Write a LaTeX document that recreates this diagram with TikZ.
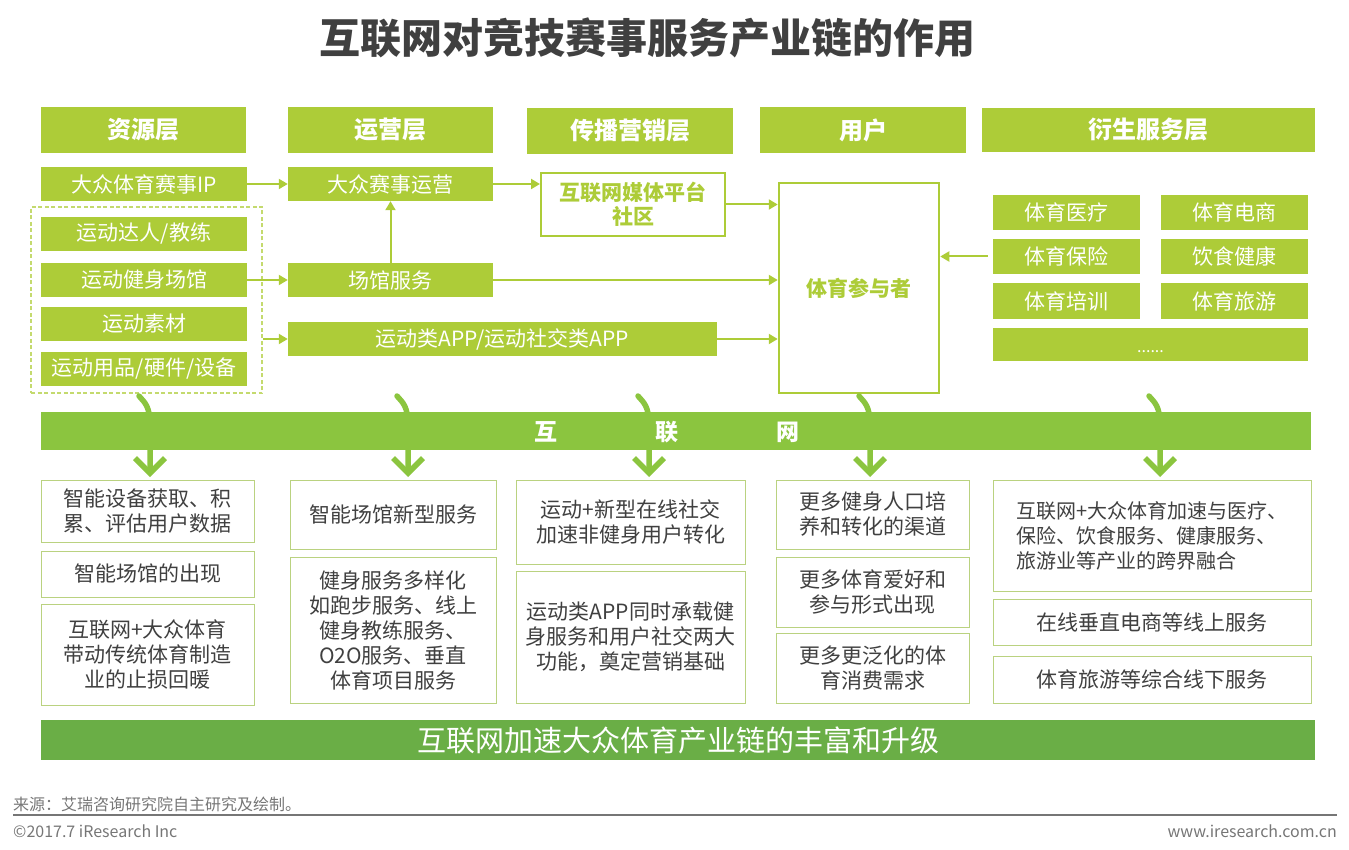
\documentclass[tikz,border=0pt]{standalone}
\usepackage{fontspec}
\setmainfont{Noto Sans CJK SC}
\usetikzlibrary{arrows.meta,positioning}
\definecolor{leafc}{RGB}{173,204,56}
\definecolor{netc}{RGB}{139,197,63}
\definecolor{sumc}{RGB}{106,174,70}
\definecolor{edgec}{RGB}{186,210,128}
\definecolor{grpc}{RGB}{196,218,110}
\definecolor{txtc}{RGB}{64,64,64}
\definecolor{footc}{RGB}{118,118,118}

\begin{document}
\begin{tikzpicture}[
  x=1pt, y=-1pt,
  hdr/.style={fill=leafc, text=white, minimum height=46pt, inner sep=0pt,
              font=\fontsize{24}{28}\selectfont\bfseries},
  res/.style={fill=leafc, text=white, minimum width=206pt, minimum height=34pt,
              inner sep=0pt, font=\fontsize{21}{25}\selectfont},
  hub/.style={draw=leafc, line width=2.5pt, fill=white, text=leafc, inner sep=0pt,
              align=center, font=\fontsize{21}{24}\selectfont\bfseries},
  note/.style={draw=edgec, line width=1pt, fill=white, text=txtc, inner sep=0pt,
               align=center, font=\fontsize{21}{25}\selectfont},
  flow/.style={draw=leafc, line width=2pt, -{Triangle[length=9pt,width=10pt]}},
  netarr/.style={draw=netc, line width=5.5pt, line cap=round,
                 -{Straight Barb[length=15pt,width=30pt]}},
  foot/.style={text=footc, inner sep=0pt, font=\fontsize{16}{18}\selectfont},
]
\useasboundingbox (0,0) rectangle (1349,850);

% ---------------- title ----------------
\node[text=txtc, font=\fontsize{41}{48}\selectfont\bfseries] (title) at (647,38)
  {互联网对竞技赛事服务产业链的作用};

% ---------------- layer headers ----------------
\node[hdr, minimum width=205pt] (hRes) at (143.5,130) {资源层};
\node[hdr, minimum width=205pt] (hOps) at (390.5,130) {运营层};
\node[hdr, minimum width=206pt] (hMkt) at (630,131) {传播营销层};
\node[hdr, minimum width=206pt] (hUsr) at (863,130) {用户};
\node[hdr, minimum width=333pt, minimum height=44pt] (hDer) at (1148.5,130) {衍生服务层};

% ---------------- resource layer ----------------
\node[res] (rIP) at (144,184) {大众体育赛事IP};
\node[draw=grpc, dash pattern=on 4pt off 2.5pt, line width=1.5pt,
      minimum width=231pt, minimum height=186pt, inner sep=0pt] (rGrp) at (146.5,300) {};
\node[res] (rCoach) at (144,234) {运动达人/教练};
\node[res] (rGym)   at (144,280) {运动健身场馆};
\node[res] (rMat)   at (144,324) {运动素材};
\node[res] (rGear)  at (144,369) {运动用品/硬件/设备};

% ---------------- operation layer ----------------
\node[res, minimum width=205pt] (oEvt) at (390.5,184) {大众赛事运营};
\node[res, minimum width=205pt] (oVen) at (390.5,280) {场馆服务};
\node[res, minimum width=429pt] (oApp) at (502.5,339) {运动类APP/运动社交类APP};

% ---------------- marketing + users ----------------
\node[hub, line width=2pt, minimum width=184pt, minimum height=63pt] (mMedia) at (633,204.5)
  {互联网媒体平台\\社区};
\node[hub, minimum width=160pt, minimum height=210pt] (uPart) at (859,288) {体育参与者};

% ---------------- derived services ----------------
\node[res, minimum width=147pt, minimum height=35pt] (dMed)   at (1066.5,212.5) {体育医疗};
\node[res, minimum width=147pt, minimum height=35pt] (dEcom)  at (1234.5,212.5) {体育电商};
\node[res, minimum width=147pt, minimum height=35pt] (dIns)   at (1066.5,256.5) {体育保险};
\node[res, minimum width=147pt, minimum height=35pt] (dDiet)  at (1234.5,256.5) {饮食健康};
\node[res, minimum width=147pt, minimum height=35pt] (dTrain) at (1066.5,301) {体育培训};
\node[res, minimum width=147pt, minimum height=35pt] (dTour)  at (1234.5,301) {体育旅游};
\node[res, minimum width=315pt, minimum height=33pt] (dMore)  at (1150.5,344.5)
  {\fontsize{16}{18}\selectfont\strut\raisebox{-4pt}{......}};

% flows between layers
\draw[flow] (rIP.east) -- (oEvt.west);
\draw[flow] (rGym.east) -- (oVen.west);
\draw[flow] (rGrp.east |- oApp.west) -- (oApp.west);
\draw[flow] (oVen.north) -- (oEvt.south);
\draw[flow] (oEvt.east) -- (oEvt.east -| mMedia.west);
\draw[flow] (mMedia.east) -- (mMedia.east -| uPart.west);
\draw[flow] (oVen.east) -- (oVen.east -| uPart.west);
\draw[flow] (oApp.east) -- (oApp.east -| uPart.west);
\draw[flow, shorten <=5pt] (dIns.west) -- (dIns.west -| uPart.east);

% ---------------- internet bar ----------------
\foreach \i/\ax in {1/150,2/408,3/649,4/870,5/1160}{
  \coordinate (s\i) at (\ax-11,396);
  \coordinate (m\i) at (\ax,426);
  \coordinate (e\i) at (\ax,477);
  \draw[netarr] (s\i) .. controls +(6,7) and +(0,-20) .. (m\i) -- (e\i);
}
\node[fill=netc, minimum width=1270pt, minimum height=38pt, inner sep=0pt] (net) at (676,431) {};
\node[text=white, font=\fontsize{23}{28}\selectfont\bfseries] (netlbl) at (667,432)
  {互\hspace{98pt}联\hspace{98pt}网};

% ---------------- effects ----------------
\node[note, minimum width=213pt, minimum height=62pt] (b11) at (147.5,511) {智能设备获取、积\\累、评估用户数据};
\node[note, minimum width=213pt, minimum height=46pt] (b12) at (147.5,574) {智能场馆的出现};
\node[note, minimum width=213pt, minimum height=101pt] (b13) at (147.5,654.5)
  {互联网+大众体育\\带动传统体育制造\\业的止损回暖};

\node[note, minimum width=206pt, minimum height=69pt] (b21) at (393,514.5) {智能场馆新型服务};
\node[note, minimum width=206pt, minimum height=146pt] (b22) at (393,630)
  {健身服务多样化\\如跑步服务、线上\\健身教练服务、\\O2O服务、垂直\\体育项目服务};

\node[note, minimum width=229pt, minimum height=84pt] (b31) at (630.5,522)
  {运动+新型在线社交\\加速非健身用户转化};
\node[note, minimum width=229pt, minimum height=132pt] (b32) at (630.5,637)
  {运动类APP同时承载健\\身服务和用户社交两大\\功能，奠定营销基础};

\node[note, minimum width=193pt, minimum height=69pt] (b41) at (872.5,514.5) {更多健身人口培\\养和转化的渠道};
\node[note, minimum width=193pt, minimum height=70pt] (b42) at (872.5,592) {更多体育爱好和\\参与形式出现};
\node[note, minimum width=193pt, minimum height=70pt] (b43) at (872.5,668) {更多更泛化的体\\育消费需求};

\node[note, align=left, font=\fontsize{20}{25}\selectfont,
      minimum width=318pt, minimum height=111pt] (b51) at (1152,535.5)
  {互联网+大众体育加速与医疗、\\保险、饮食服务、健康服务、\\旅游业等产业的跨界融合};
\node[note, minimum width=318pt, minimum height=46pt] (b52) at (1152,622) {在线垂直电商等线上服务};
\node[note, minimum width=318pt, minimum height=47pt] (b53) at (1152,679.5) {体育旅游等综合线下服务};

% ---------------- summary + footer ----------------
\node[fill=sumc, text=white, minimum width=1274pt, minimum height=40pt, inner sep=0pt,
      font=\fontsize{29}{32}\selectfont] (sum) at (678,740) {互联网加速大众体育产业链的丰富和升级};

\node[foot, anchor=base west] (src) at (13,810) {来源：艾瑞咨询研究院自主研究及绘制。};
\draw[footc, line width=2.5pt] (13,815) -- (1337,815);
\node[foot, anchor=base west] (copy) at (13,837) {©2017.7 iResearch Inc};
\node[foot, anchor=base east] (web) at (1337,837) {www.iresearch.com.cn};

\end{tikzpicture}
\end{document}
